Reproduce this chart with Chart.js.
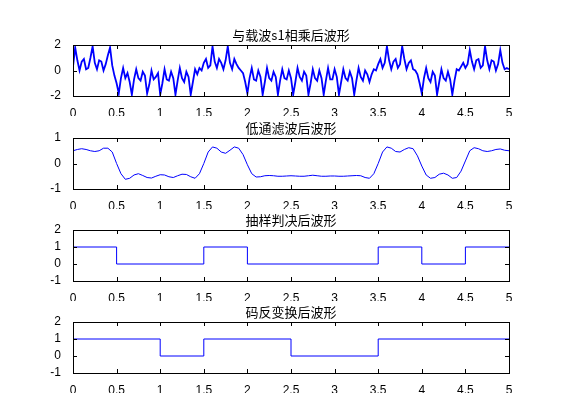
<!DOCTYPE html>
<html>
<head>
<meta charset="utf-8">
<script src="https://cdn.jsdelivr.net/npm/chart.js@4/dist/chart.umd.min.js"></script>
<style>
body { margin: 0; background: #fff; }
#wrap { position: relative; width: 562px; height: 420px; }
canvas { position: absolute; left: 0; }
</style>
</head>
<body>
<div id="wrap">
<canvas id="c1"></canvas>
<canvas id="c2"></canvas>
<canvas id="c3"></canvas>
<canvas id="c4"></canvas>
</div>
<script>
let titles = ["与载波s1相乘后波形", "低通滤波后波形", "抽样判决后波形", "码反变换后波形"];
let xTicks = [0, 0.5, 1, 1.5, 2, 2.5, 3, 3.5, 4, 4.5, 5];

// product signal, sampled every 0.025
let mixStep = 0.025;
let mixValues = [
    0.3,1.8,0.8,0.0,0.7,0.9,0.1,0.2,
    1.0,1.9,0.6,0.1,0.8,0.7,0.0,0.5,
    1.2,1.8,0.4,-0.4,-1.0,-1.8,-0.6,0.2,
    -0.6,-0.2,-0.9,-1.9,-0.7,0.1,-0.6,-0.8,
    -0.1,-0.4,-1.8,-1.1,0.0,-0.7,-0.5,-0.2,
    -1.9,-1.0,0.1,-0.7,-0.8,-0.1,-0.6,-1.9,
    -0.8,0.2,-0.6,-0.9,-0.1,-0.5,-1.9,-0.9,
    0.1,-0.3,0.2,0.0,0.6,0.9,0.2,0.4,
    1.9,0.7,0.2,0.9,0.6,0.1,0.8,1.9,
    0.6,0.1,0.9,0.5,0.2,0.0,-0.2,-0.9,
    -1.8,-0.6,0.2,-0.7,-0.8,0.0,-0.5,-1.9,
    -0.9,0.2,-0.6,-0.8,-0.1,-0.5,-1.9,-0.8,
    0.1,-0.6,-0.7,0.0,-0.6,-1.9,-0.9,0.2,
    -0.5,-0.8,-0.1,-0.4,-1.9,-1.0,0.1,-0.6,
    -0.8,0.0,-0.6,-1.9,-0.8,0.2,-0.7,-0.7,
    0.1,-0.5,-1.9,-0.9,0.1,-0.6,-0.8,-0.1,
    -0.6,-1.9,-0.8,0.2,-0.5,-0.8,0.0,-0.3,
    -0.9,-0.3,0.1,0.0,0.5,0.9,0.2,0.6,
    1.9,0.8,0.1,0.7,0.9,0.2,0.5,1.9,
    0.9,0.1,0.6,0.8,0.1,0.0,-0.3,-1.0,
    -1.8,-0.6,0.2,-0.6,-0.9,-0.1,-0.4,-1.9,
    -0.9,0.1,-0.6,-0.8,-0.1,-0.7,-1.9,-0.8,
    0.1,0.0,0.3,0.6,0.2,0.5,1.6,0.7,
    0.1,0.8,0.9,0.2,0.4,1.9,0.8,0.1,
    0.8,0.7,0.0,0.5,1.6,0.6,0.1,0.2,
    0.1
];

// low-pass output, sampled every 0.05
let lpStep = 0.05;
let lpValues = [
    0.5,0.55,0.58,0.55,0.5,0.47,0.5,0.6,0.6,0.45,
    0.0,-0.4,-0.62,-0.58,-0.45,-0.4,-0.47,-0.55,-0.57,-0.5,
    -0.44,-0.45,-0.52,-0.55,-0.48,-0.42,-0.43,-0.52,-0.58,-0.4,
    0.0,0.45,0.65,0.6,0.45,0.4,0.52,0.65,0.6,0.35,
    -0.05,-0.4,-0.53,-0.52,-0.48,-0.47,-0.48,-0.5,-0.5,-0.49,
    -0.48,-0.49,-0.5,-0.5,-0.48,-0.46,-0.48,-0.5,-0.5,-0.49,
    -0.49,-0.5,-0.5,-0.49,-0.48,-0.47,-0.48,-0.55,-0.58,-0.4,
    0.0,0.45,0.65,0.6,0.47,0.45,0.55,0.62,0.58,0.3,
    -0.1,-0.45,-0.58,-0.55,-0.42,-0.38,-0.45,-0.58,-0.55,-0.3,
    0.1,0.5,0.62,0.58,0.5,0.47,0.5,0.55,0.57,0.52,
    0.5
];

// sampled decision and inverse transform, step points
let decisionX = [0, 0.5, 1.5, 2, 3.5, 4, 4.5, 5];
let decisionY = [1, 0, 1, 0, 1, 0, 1, 1];
let codeX = [0, 1, 1.5, 2.5, 3.5, 5];
let codeY = [1, 0, 1, 0, 1, 1];

function toPoints(xs, ys) {
    return ys.map((y, i) => ({ x: xs[i], y: y }));
}
function sampled(step, ys) {
    return ys.map((y, i) => ({ x: +(i * step).toFixed(4), y: y }));
}

const boxPlugin = {
    id: "box",
    afterDraw(chart) {
        let ctx = chart.ctx, a = chart.chartArea;
        let xs = chart.scales.x, ys = chart.scales.y;
        ctx.save();
        ctx.strokeStyle = "#000";
        ctx.lineWidth = 1;
        ctx.strokeRect(Math.round(a.left) + 0.5, Math.round(a.top) + 0.5, Math.round(a.width), Math.round(a.height));
        ctx.beginPath();
        xs.ticks.forEach(t => {
            let px = Math.round(xs.getPixelForValue(t.value)) + 0.5;
            ctx.moveTo(px, a.bottom); ctx.lineTo(px, a.bottom - 4);
            ctx.moveTo(px, a.top); ctx.lineTo(px, a.top + 4);
        });
        ys.ticks.forEach(t => {
            let py = Math.round(ys.getPixelForValue(t.value)) + 0.5;
            ctx.moveTo(a.left, py); ctx.lineTo(a.left + 4, py);
            ctx.moveTo(a.right, py); ctx.lineTo(a.right - 4, py);
        });
        ctx.stroke();
        ctx.fillStyle = "#000";
        ctx.font = "13px 'Noto Sans CJK SC'";
        ctx.textAlign = "center";
        ctx.textBaseline = "bottom";
        ctx.fillText(chart.options.plugins.box.text, (a.left + a.right) / 2, a.top - 3);
        ctx.restore();
    }
};

function makeChart(id, top, title, data, yMin, yMax, yTicks, width, stepped) {
    let cv = document.getElementById(id);
    cv.style.top = top + "px";
    cv.width = 562; cv.height = 100;
    cv.style.width = "562px"; cv.style.height = "100px";
    return new Chart(cv, {
        type: "line",
        data: {
            datasets: [{
                data: data,
                borderColor: "#0000ff",
                borderWidth: width,
                pointRadius: 0,
                tension: 0,
                stepped: stepped ? "before" : false
            }]
        },
        options: {
            responsive: false,
            animation: false,
            events: [],
            layout: { padding: { left: 0, right: 53, top: 27, bottom: 2 } },
            plugins: { legend: { display: false }, tooltip: { enabled: false }, box: { text: title } },
            scales: {
                x: {
                    type: "linear", min: 0, max: 5,
                    afterBuildTicks: s => { s.ticks = xTicks.map(v => ({ value: v })); },
                    afterFit: s => { s.height = 20; },
                    grid: { display: false },
                    border: { display: false },
                    ticks: { color: "#000", font: { family: "Liberation Sans", size: 12 }, padding: 2, maxRotation: 0,
                        autoSkip: false, callback: v => String(v) }
                },
                y: {
                    min: yMin, max: yMax,
                    afterBuildTicks: s => { s.ticks = yTicks.map(v => ({ value: v })); },
                    afterFit: s => { s.width = 73; },
                    grid: { display: false },
                    border: { display: false },
                    ticks: { color: "#000", font: { family: "Liberation Sans", size: 12 }, padding: 4, autoSkip: false }
                }
            }
        },
        plugins: [boxPlugin]
    });
}

makeChart("c1", 18, titles[0], sampled(mixStep, mixValues), -2, 2, [-2, 0, 2], 1.8, false);
makeChart("c2", 111, titles[1], sampled(lpStep, lpValues), -1, 1, [-1, 0, 1], 1, false);
makeChart("c3", 203, titles[2], toPoints(decisionX, decisionY), -1, 2, [-1, 0, 1, 2], 1, true);
makeChart("c4", 295, titles[3], toPoints(codeX, codeY), -1, 2, [-1, 0, 1, 2], 1, true);
</script>
</body>
</html>
